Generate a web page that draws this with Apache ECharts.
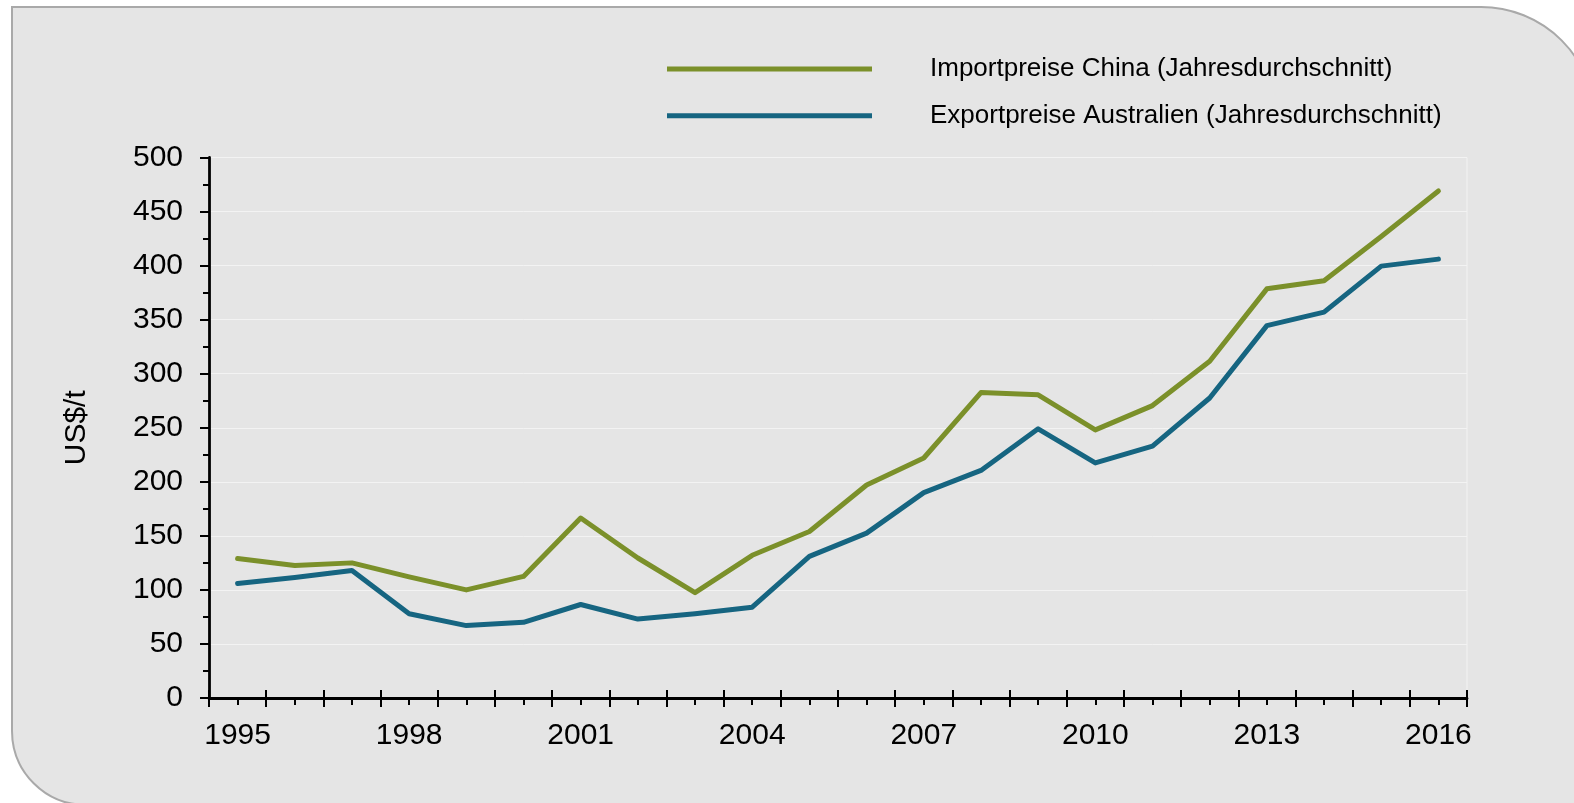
<!DOCTYPE html>
<html lang="de">
<head>
<meta charset="utf-8">
<title>Importpreise China / Exportpreise Australien</title>
<script src="https://cdn.jsdelivr.net/npm/echarts@6/dist/echarts.min.js"></script>
<style>
  html, body { margin: 0; padding: 0; background: #ffffff; overflow: hidden; }
  #panel {
    position: absolute; left: 11px; top: 6px; width: 1585px; height: 800px;
    box-sizing: border-box; border: 2px solid #a9a9a9;
    border-radius: 0 115px 0 75px; background: #e5e5e5;
  }
  #chart { position: absolute; left: 0; top: 0; width: 1574px; height: 803px; }
</style>
</head>
<body>
<div id="panel"></div>
<div id="chart"></div>
<script>
// Jahre (Kategorien der x-Achse)
const years = ['1995','1996','1997','1998','1999','2000','2001','2002','2003','2004','2005',
               '2006','2007','2008','2009','2010','2011','2012','2013','2014','2015','2016'];

// Importpreise China, Jahresdurchschnitt in US$/t
const importChina = [129, 122.5, 125, 112, 100, 112.5, 166.5, 129.5, 97.5, 132, 154,
                     197, 222, 282.5, 280.5, 248, 270.5, 311.5, 378.5, 386, 427, 469];

// Exportpreise Australien, Jahresdurchschnitt in US$/t
const exportAustralia = [106, 111.5, 118, 78, 67, 70, 86.5, 73, 78, 84, 131,
                         152.5, 190, 210.5, 249, 217.5, 233, 277.5, 344.5, 357, 399.5, 406];

const seriesNames = ['Importpreise China (Jahresdurchschnitt)',
                     'Exportpreise Australien (Jahresdurchschnitt)'];
const yTicks = { min: 0, max: 500, step: 50 };
const unitLabel = 'US$/t';

const FONT = '"Liberation Sans", Arial, sans-serif';
const GREEN = '#7b902a';
const BLUE = '#166581';
const INK = '#000000';

const chart = echarts.init(document.getElementById('chart'), null, { renderer: 'canvas' });

const hiddenCat = (extra) => Object.assign({
  type: 'category', data: years, position: 'bottom', boundaryGap: true, gridIndex: 0,
  axisLine: { show: false }, axisLabel: { show: false }, splitLine: { show: false }
}, extra);

chart.setOption({
  animation: false,
  textStyle: { fontFamily: FONT },
  grid: {
    left: 209, right: 107, top: 157.5, bottom: 105,
    show: true, borderColor: '#f3f3f3', borderWidth: 1, backgroundColor: 'transparent'
  },
  legend: {
    orient: 'vertical', left: 662, top: 51, itemGap: 20.7,
    itemWidth: 205, itemHeight: 5, icon: 'rect',
    textStyle: { fontSize: 26, color: INK, fontFamily: FONT, padding: [0, 0, 9, 53] },
    data: seriesNames
  },
  xAxis: [
    {
      type: 'category', data: years, position: 'bottom', boundaryGap: true,
      axisLine: { show: true, onZero: false, lineStyle: { color: INK, width: 2.8 } },
      axisTick: { show: true, alignWithLabel: false, interval: 0, length: 9,
                  lineStyle: { color: INK, width: 2 } },
      axisLabel: { interval: 2, fontSize: 30, color: INK, margin: 23, fontFamily: FONT },
      splitLine: { show: false }
    },
    // Hauptstriche auch oberhalb der Achse
    hiddenCat({ axisTick: { show: true, inside: true, alignWithLabel: false, interval: 0,
                            length: 8, lineStyle: { color: INK, width: 2 } } }),
    // kurze Striche in der Mitte jedes Jahres
    hiddenCat({ axisTick: { show: true, alignWithLabel: true, interval: 0,
                            length: 7, lineStyle: { color: INK, width: 2 } } })
  ],
  yAxis: {
    type: 'value', min: yTicks.min, max: yTicks.max, interval: yTicks.step,
    name: unitLabel, nameLocation: 'middle', nameRotate: 90, nameGap: 117,
    nameTextStyle: { fontSize: 30, color: INK, fontFamily: FONT },
    axisLine: { show: true, lineStyle: { color: INK, width: 2.8 } },
    axisTick: { show: true, length: 9, lineStyle: { color: INK, width: 2 } },
    minorTick: { show: true, splitNumber: 2, length: 6, lineStyle: { color: INK, width: 2 } },
    axisLabel: { fontSize: 30, color: INK, margin: 26, fontFamily: FONT, padding: [8, 0, 0, 0] },
    splitLine: { show: true, lineStyle: { color: '#f3f3f3', width: 1 } }
  },
  series: [
    {
      name: seriesNames[0], type: 'line', data: importChina, xAxisIndex: 0,
      symbol: 'none', lineStyle: { color: GREEN, width: 5, cap: 'round', join: 'round' },
      itemStyle: { color: GREEN }, z: 3
    },
    {
      name: seriesNames[1], type: 'line', data: exportAustralia, xAxisIndex: 0,
      symbol: 'none', lineStyle: { color: BLUE, width: 5, cap: 'round', join: 'round' },
      itemStyle: { color: BLUE }, z: 3
    }
  ]
});
</script>
</body>
</html>
